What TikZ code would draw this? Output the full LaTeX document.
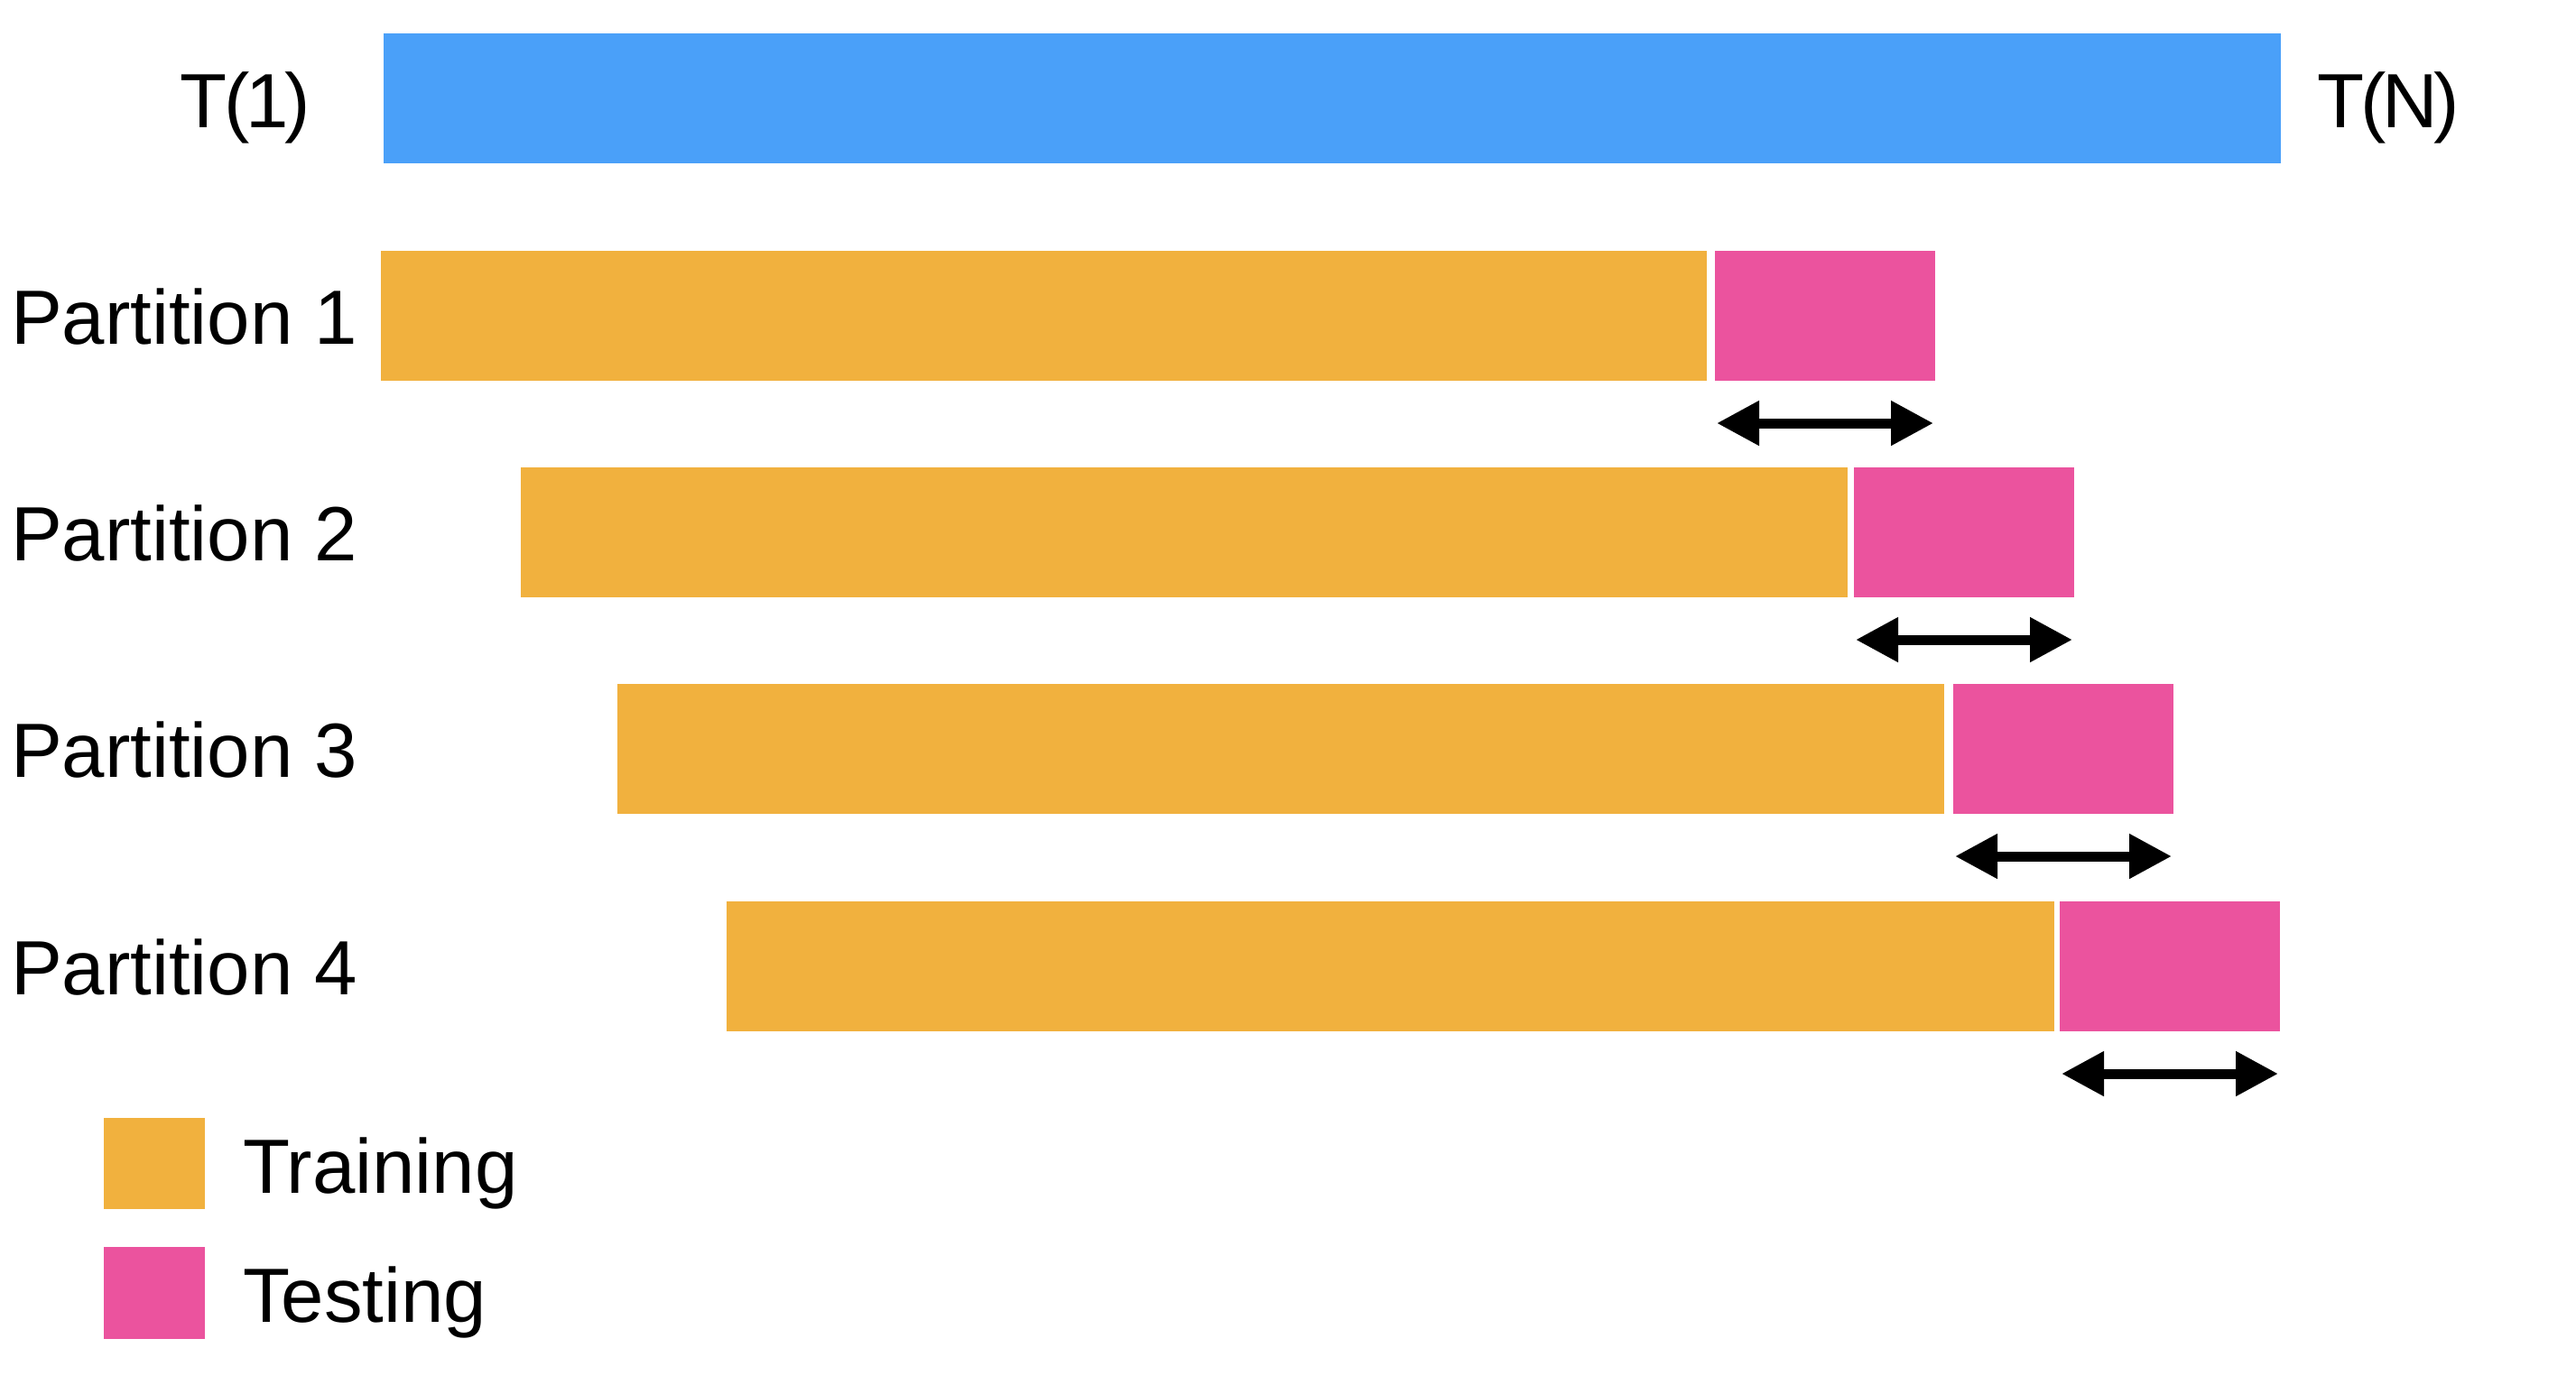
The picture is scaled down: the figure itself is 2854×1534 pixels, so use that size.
\documentclass[tikz,border=0pt]{standalone}
\usepackage{fontspec}
\setmainfont{Liberation Sans}
\usetikzlibrary{arrows.meta,calc}
\definecolor{tblue}{RGB}{74,160,249}
\definecolor{torange}{RGB}{241,177,62}
\definecolor{tpink}{RGB}{235,83,158}
\begin{document}
\begin{tikzpicture}[x=0.25pt,y=-0.25pt,
  bar/.style={anchor=north west,inner sep=0pt,outer sep=0pt,minimum height=36pt},
  train/.style={bar,fill=torange},
  test/.style={bar,fill=tpink,minimum width=61pt},
  lbl/.style={anchor=base west,inner sep=0pt,outer sep=0pt,font=\fontsize{21.3}{25}\selectfont},
  spanarrow/.style={line width=2.75pt,{Triangle[length=11.75pt,width=11.75pt]}-{Triangle[length=11.75pt,width=11.75pt]}}]
\fill[white] (0,0) rectangle (2854,1534);
\useasboundingbox (0,0) rectangle (2854,1534);
% full series
\node[bar,fill=tblue,minimum width=2102*0.25pt] (all) at (425,37) {};
\node[lbl] (t1) at (199,141) {T\kern-.03em(\kern-.05em1\kern-.05em)};
\node[lbl] (tn) at (2567,141) {T\kern-.04em(\kern-.05emN\kern-.06em)};
% partitions
\node[train,minimum width=1469*0.25pt] (tr1) at (422,278) {};
\node[test] (te1) at (1900,278) {};
\node[lbl] (p1) at (12,381) {Partition 1};
\node[train,minimum width=1470*0.25pt] (tr2) at (577,518) {};
\node[test] (te2) at (2054,518) {};
\node[lbl] (p2) at (12,621) {Partition 2};
\node[train,minimum width=1470*0.25pt] (tr3) at (684,758) {};
\node[test] (te3) at (2164,758) {};
\node[lbl] (p3) at (12,861) {Partition 3};
\node[train,minimum width=1471*0.25pt] (tr4) at (805,999) {};
\node[test] (te4) at (2282,999) {};
\node[lbl] (p4) at (12,1102) {Partition 4};
% test-window arrows
\foreach \i in {1,2,3,4}{
  \coordinate (al\i) at ($(te\i.south west)+(2,47)$);
  \coordinate (ar\i) at ($(te\i.south east)+(-2,47)$);
  \draw[spanarrow] (al\i) -- (ar\i);
}
% legend
\node[anchor=north west,inner sep=0pt,outer sep=0pt,fill=torange,minimum width=112*0.25pt,minimum height=101*0.25pt] (ktrain) at (115,1239) {};
\node[anchor=north west,inner sep=0pt,outer sep=0pt,fill=tpink,minimum width=112*0.25pt,minimum height=102*0.25pt] (ktest) at (115,1382) {};
\node[lbl] (ltrain) at (269,1322) {Training};
\node[lbl] (ltest) at (269,1465) {Testing};
\end{tikzpicture}
\end{document}
